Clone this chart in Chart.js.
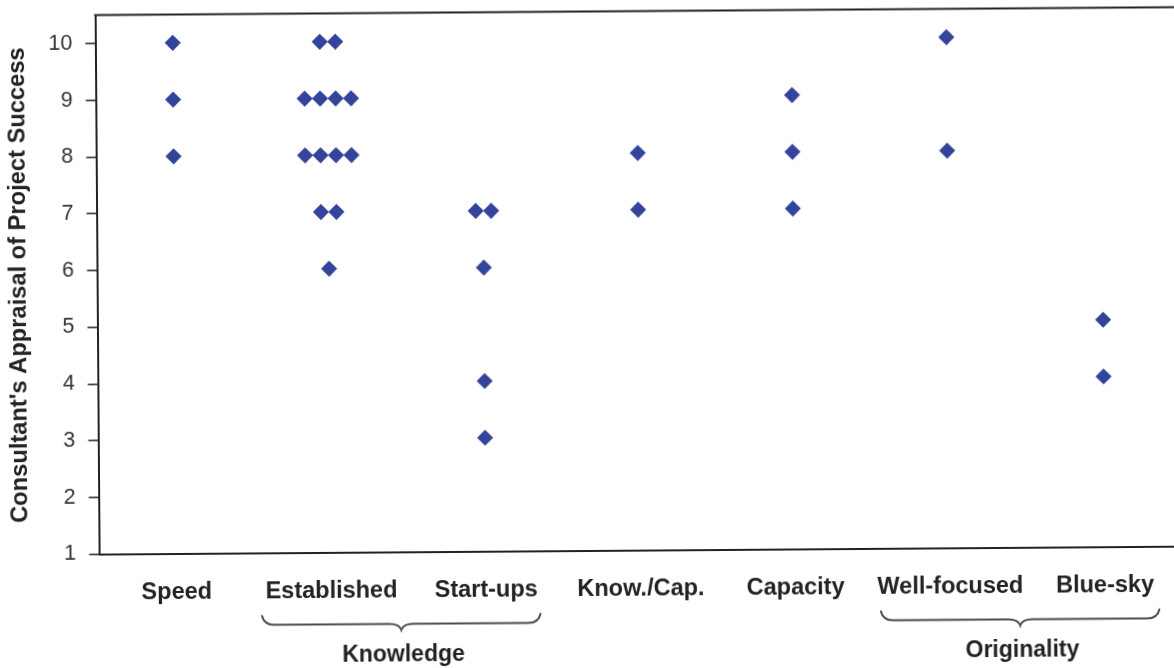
<!DOCTYPE html>
<html>
<head>
<meta charset="utf-8">
<title>Consultant's Appraisal of Project Success</title>
<script src="https://cdn.jsdelivr.net/npm/chart.js@4/dist/chart.umd.min.js"></script>
<style>
  html, body { margin: 0; padding: 0; background: #ffffff; overflow: hidden; width: 1174px; height: 668px; }
  #wrap { position: absolute; left: 0; top: 0; width: 1190px; height: 668px;
          transform: rotate(-0.42deg); transform-origin: 587px 334px; }
  canvas { display: block; }
</style>
</head>
<body>
<div id="wrap"><canvas id="chart" width="1190" height="668"></canvas></div>
<script>
// Project categories along the horizontal axis
const categories = ['Speed', 'Established', 'Start-ups', 'Know./Cap.', 'Capacity', 'Well-focused', 'Blue-sky'];

// Consultant scores for each project, one list per category
const speedScores       = [10, 9, 8];
const establishedScores = [10, 10, 9, 9, 9, 9, 8, 8, 8, 8, 7, 7, 6];
const startupScores     = [7, 7, 6, 4, 3];
const knowCapScores     = [8, 7];
const capacityScores    = [9, 8, 7];
const wellFocusedScores = [10, 8];
const blueSkyScores     = [5, 4];

const scoresByCategory = [speedScores, establishedScores, startupScores, knowCapScores,
                          capacityScores, wellFocusedScores, blueSkyScores];

// Category groupings shown with braces under the axis (1-based category numbers)
const groupNames   = ['Knowledge', 'Originality'];
const groupMembers = [[2, 3], [6, 7]];

// Value axis ticks
const yTicks = [1, 2, 3, 4, 5, 6, 7, 8, 9, 10];

// Build scatter points; equal scores within a category sit side by side
const SPREAD = 0.1;
const points = [];
scoresByCategory.forEach((scores, i) => {
  const cat = i + 1;
  const counts = {};
  scores.forEach(v => { counts[v] = (counts[v] || 0) + 1; });
  const seen = {};
  scores.forEach(v => {
    const k = seen[v] || 0;
    seen[v] = k + 1;
    const offset = (k - (counts[v] - 1) / 2) * SPREAD;
    points.push({ x: cat + offset, y: v });
  });
});

const FONT = "'Liberation Sans', Arial, Helvetica, sans-serif";
const INK = '#222222';

// Top frame line plus the grouping braces and their captions
const extrasPlugin = {
  id: 'extras',
  afterDraw(chart, args, opts) {
    const { ctx, chartArea } = chart;
    const xs = chart.scales.x;
    ctx.save();
    ctx.strokeStyle = INK;
    ctx.lineWidth = 2;
    ctx.beginPath();
    ctx.moveTo(chartArea.left - 1, chartArea.top);
    ctx.lineTo(chartArea.right, chartArea.top);
    ctx.stroke();

    const b = chartArea.bottom;
    const yEnd = b + opts.braceEnd, yH = b + opts.braceLine, yTip = b + opts.braceTip;
    groupMembers.forEach((members, gi) => {
      const first = members[0], last = members[members.length - 1];
      const x0 = xs.getPixelForValue(first - 0.45);
      const x1 = xs.getPixelForValue(last + 0.35);
      const mid = (x0 + x1) / 2;
      ctx.strokeStyle = opts.braceColor;
      ctx.lineWidth = 2;
      ctx.lineCap = 'round';
      ctx.beginPath();
      ctx.moveTo(x0, yEnd);
      ctx.quadraticCurveTo(x0 + 2, yH, x0 + 12, yH);
      ctx.lineTo(mid - 12, yH);
      ctx.quadraticCurveTo(mid - 2, yH, mid, yTip);
      ctx.quadraticCurveTo(mid + 2, yH, mid + 12, yH);
      ctx.lineTo(x1 - 12, yH);
      ctx.quadraticCurveTo(x1 - 2, yH, x1, yEnd);
      ctx.stroke();

      ctx.fillStyle = INK;
      ctx.font = 'bold 23px ' + FONT;
      ctx.textAlign = 'center';
      ctx.textBaseline = 'alphabetic';
      ctx.fillText(groupNames[gi], mid + 2, b + opts.captionBaseline);
    });
    ctx.restore();
  }
};

new Chart(document.getElementById('chart'), {
  type: 'scatter',
  data: {
    datasets: [{
      label: 'Appraisal',
      data: points,
      pointStyle: 'rectRot',
      pointRadius: 7,
      pointHoverRadius: 7,
      borderWidth: 1.5,
      backgroundColor: '#34439b',
      borderColor: '#34439b'
    }]
  },
  options: {
    responsive: false,
    animation: false,
    devicePixelRatio: 1,
    layout: { padding: { left: 0, top: 11.5, right: 9.4, bottom: 0 } },
    plugins: {
      legend: { display: false },
      tooltip: { enabled: false },
      extras: {
        braceEnd: 63, braceLine: 72, braceTip: 78, captionBaseline: 109,
        braceColor: '#4a4a56'
      }
    },
    scales: {
      x: {
        type: 'linear',
        min: 0.5,
        max: 7.5,
        afterBuildTicks(scale) { scale.ticks = categories.map((c, i) => ({ value: i + 1 })); },
        afterFit(scale) {
          scale.height = 117.5;
          scale.paddingLeft = 0; scale.paddingRight = 0;
        },
        grid: { display: false, drawTicks: false },
        border: { display: true, color: INK, width: 2 },
        ticks: {
          autoSkip: false,
          maxRotation: 0,
          padding: 25,
          color: INK,
          font: { family: FONT, size: 23.5, weight: 'bold' },
          callback: (v) => categories[Math.round(v) - 1]
        }
      },
      y: {
        min: 1,
        max: 10.5,
        afterBuildTicks(scale) { scale.ticks = yTicks.map(v => ({ value: v })); },
        afterFit(scale) {
          scale.width = 97.5;
          scale.paddingTop = 0; scale.paddingBottom = 0;
        },
        grid: { display: true, drawOnChartArea: false, drawTicks: true, tickLength: 10, color: INK, lineWidth: 1.5 },
        border: { display: true, color: INK, width: 2 },
        ticks: {
          padding: 13,
          color: '#333333',
          font: { family: FONT, size: 21.5 }
        },
        title: {
          display: true,
          text: "Consultant's Appraisal of Project Success",
          color: INK,
          font: { family: FONT, size: 23.7, weight: 'bold' },
          padding: { top: 5.5, bottom: 0 }
        }
      }
    }
  },
  plugins: [extrasPlugin]
});
</script>
</body>
</html>
